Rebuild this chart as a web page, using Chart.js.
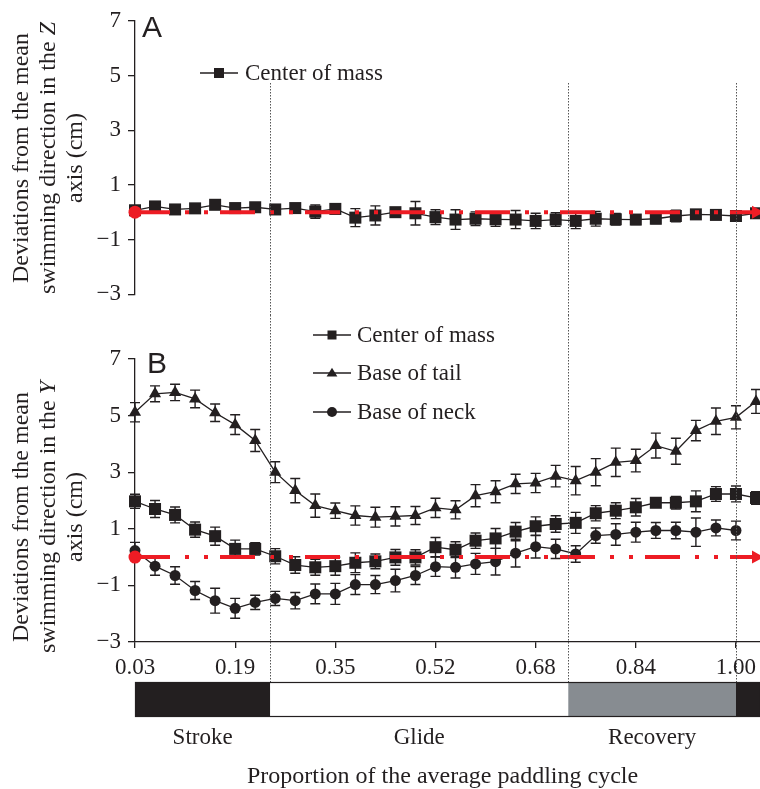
<!DOCTYPE html>
<html><head><meta charset="utf-8">
<script src="https://cdn.jsdelivr.net/npm/chart.js@4.4.1/dist/chart.umd.min.js"></script>
<style>
html,body{margin:0;padding:0;background:#fff;}
#wrap{position:relative;width:760px;height:789px;overflow:hidden;background:#fff;}
.box{position:absolute;left:0;width:760px;}
canvas{display:block;}
</style></head><body>
<div id="wrap">
<div class="box" style="top:0;height:315px"><canvas id="cA" width="760" height="315"></canvas></div>
<div class="box" style="top:315px;height:474px"><canvas id="cB" width="760" height="474"></canvas></div>
</div>
<script>
// ---------- data ----------
const cycle = ['0.03','0.06','0.10','0.13','0.16','0.19','0.23','0.26','0.29','0.32','0.35','0.39','0.42','0.45','0.48','0.52','0.55','0.58','0.61','0.65','0.68','0.71','0.74','0.77','0.81','0.84','0.87','0.90','0.94','0.97','1.00','1.03'];
const xTickLabels = ['0.03','0.19','0.35','0.52','0.68','0.84','1.00'];
const yTicks = [-3, -1, 1, 3, 5, 7];
const phaseNames = ['Stroke', 'Glide', 'Recovery'];
const phaseEnds = [0.25, 0.73, 1.00];
const meanLine = 0;

// Panel A : Z axis, centre of mass
const zCenterOfMass = [0.07,0.21,0.10,0.14,0.27,0.15,0.18,0.10,0.15,0.02,0.12,-0.20,-0.12,0.00,-0.04,-0.18,-0.27,-0.24,-0.26,-0.27,-0.32,-0.27,-0.32,-0.24,-0.26,-0.27,-0.24,-0.14,-0.08,-0.10,-0.14,-0.04];
const zCenterOfMassErr = [0.10,0.12,0.10,0.10,0.12,0.10,0.12,0.10,0.12,0.24,0.18,0.33,0.35,0.15,0.43,0.27,0.36,0.25,0.26,0.33,0.28,0.25,0.28,0.27,0.21,0.18,0.18,0.21,0.12,0.12,0.10,0.10];

// Panel B : Y axis
const yCenterOfMass = [1.97,1.70,1.49,0.97,0.74,0.29,0.29,0.03,-0.28,-0.36,-0.32,-0.20,-0.15,-0.01,-0.01,0.35,0.26,0.58,0.66,0.90,1.09,1.17,1.21,1.55,1.64,1.76,1.92,1.92,1.97,2.23,2.23,2.09];
const yCenterOfMassErr = [0.25,0.30,0.28,0.27,0.32,0.31,0.22,0.27,0.29,0.28,0.32,0.35,0.26,0.28,0.27,0.34,0.28,0.27,0.35,0.32,0.33,0.29,0.37,0.27,0.28,0.31,0.16,0.22,0.37,0.26,0.28,0.22];
const yBaseOfTail = [5.12,5.77,5.82,5.59,5.10,4.68,4.12,3.00,2.35,1.82,1.64,1.47,1.41,1.44,1.47,1.74,1.67,2.17,2.31,2.59,2.62,2.86,2.70,3.00,3.35,3.41,3.94,3.74,4.47,4.80,4.94,5.50];
const yBaseOfTailErr = [0.34,0.28,0.29,0.31,0.31,0.35,0.39,0.37,0.43,0.41,0.27,0.34,0.35,0.34,0.32,0.34,0.32,0.39,0.39,0.34,0.34,0.38,0.50,0.48,0.50,0.40,0.44,0.46,0.36,0.47,0.41,0.42];
const yBaseOfNeck = [0.23,-0.32,-0.65,-1.18,-1.54,-1.81,-1.60,-1.46,-1.54,-1.30,-1.30,-0.97,-0.97,-0.83,-0.65,-0.34,-0.36,-0.24,-0.16,0.14,0.37,0.29,0.11,0.76,0.80,0.88,0.94,0.94,0.88,1.03,0.94,null];
const yBaseOfNeckErr = [0.29,0.32,0.31,0.32,0.44,0.35,0.25,0.25,0.29,0.35,0.37,0.35,0.32,0.40,0.32,0.34,0.38,0.37,0.47,0.49,0.40,0.34,0.29,0.27,0.38,0.35,0.28,0.29,0.50,0.28,0.33,null];

// ---------- style ----------
const INK = '#231f20';
const RED = '#ed1c24';
const GREY = '#878c91';
const SERIF = "'Liberation Serif','Times New Roman',serif";
const SANS = "'Liberation Sans',Arial,sans-serif";
const X_MAX = 32.2;

const toPts = arr => arr.map((v, i) => ({x: i + 1, y: v}));
const propToX = p => p * (cycle.length - 1);
const fmt = v => (v < 0 ? '\u2212' + Math.abs(v) : String(v));

function seriesDataset(label, values, errs, style, radius) {
  return {
    label, data: toPts(values), errors: errs,
    borderColor: INK, borderWidth: 1.3, backgroundColor: INK,
    pointStyle: style, pointRadius: radius, pointBorderWidth: 0,
    pointBackgroundColor: INK, tension: 0, clip: false, spanGaps: false
  };
}
function meanDataset() {
  return {
    label: 'mean', data: [{x: 1, y: meanLine}, {x: X_MAX, y: meanLine}],
    borderColor: RED, borderWidth: 4, borderDash: [35, 15, 4, 15, 4, 12],
    borderCapStyle: 'butt', pointRadius: [6.5, 0], pointBorderWidth: 0,
    pointBackgroundColor: RED, clip: false, isMean: true
  };
}

const errorBars = {
  id: 'errorBars',
  beforeDatasetsDraw(chart) {
    const ctx = chart.ctx, ys = chart.scales.y;
    chart.data.datasets.forEach((ds, i) => {
      if (!ds.errors) return;
      const meta = chart.getDatasetMeta(i);
      ctx.save();
      ctx.strokeStyle = INK; ctx.lineWidth = 1.4;
      meta.data.forEach((el, j) => {
        const v = ds.data[j].y, e = ds.errors[j];
        if (v == null || e == null) return;
        const x = el.x, y0 = ys.getPixelForValue(v - e), y1 = ys.getPixelForValue(v + e);
        ctx.beginPath();
        ctx.moveTo(x, y0); ctx.lineTo(x, y1);
        ctx.moveTo(x - 5, y0); ctx.lineTo(x + 5, y0);
        ctx.moveTo(x - 5, y1); ctx.lineTo(x + 5, y1);
        ctx.stroke();
      });
      ctx.restore();
    });
  },
  afterDatasetsDraw(chart) {
    const ctx = chart.ctx;
    chart.data.datasets.forEach((ds, i) => {
      if (!ds.isMean) return;
      const meta = chart.getDatasetMeta(i);
      const last = meta.data[meta.data.length - 1];
      ctx.save();
      ctx.fillStyle = RED;
      ctx.beginPath();
      ctx.moveTo(last.x + 4, last.y);
      ctx.lineTo(last.x - 8, last.y - 6.5);
      ctx.lineTo(last.x - 8, last.y + 6.5);
      ctx.closePath(); ctx.fill();
      ctx.restore();
    });
  }
};

function drawMarker(ctx, style, x, y, size) {
  ctx.beginPath();
  if (style === 'rect') { ctx.rect(x - size, y - size, 2 * size, 2 * size); }
  else if (style === 'triangle') {
    ctx.moveTo(x, y - size * 1.15); ctx.lineTo(x + size * 1.2, y + size * 0.75); ctx.lineTo(x - size * 1.2, y + size * 0.75); ctx.closePath();
  } else { ctx.arc(x, y, size + 0.5, 0, Math.PI * 2); }
  ctx.fill();
}

function yTitle(ctx, cy, letter) {
  ctx.save();
  ctx.fillStyle = INK;
  ctx.translate(0, cy);
  ctx.rotate(-Math.PI / 2);
  ctx.textBaseline = 'alphabetic';
  ctx.textAlign = 'left';
  const lines = [
    [['Deviations from the mean', false]],
    [['swimming direction in the ', false], [letter, true]],
    [['axis (cm)', false]]
  ];
  const base = [28, 55, 82];
  lines.forEach((parts, li) => {
    let total = 0;
    parts.forEach(([t, it]) => { ctx.font = (it ? 'italic ' : '') + '24px ' + SERIF; total += ctx.measureText(t).width; });
    let x = -total / 2;
    parts.forEach(([t, it]) => {
      ctx.font = (it ? 'italic ' : '') + '24px ' + SERIF;
      ctx.fillText(t, x, base[li]);
      x += ctx.measureText(t).width;
    });
  });
  ctx.restore();
}

function legend(ctx, items, x0, x1, tx) {
  ctx.save();
  items.forEach(it => {
    ctx.strokeStyle = INK; ctx.lineWidth = 1.3; ctx.fillStyle = INK;
    ctx.beginPath(); ctx.moveTo(x0, it.y); ctx.lineTo(x1, it.y); ctx.stroke();
    drawMarker(ctx, it.style, (x0 + x1) / 2, it.y, it.size);
    ctx.font = '23px ' + SERIF; ctx.textBaseline = 'middle'; ctx.textAlign = 'left';
    ctx.fillText(it.label, tx, it.y + 1);
  });
  ctx.restore();
}

function dottedLines(ctx, xs, top, bottom) {
  ctx.save();
  ctx.strokeStyle = '#555'; ctx.lineWidth = 1; ctx.setLineDash([1.5, 1.5]);
  phaseEnds.forEach(p => {
    const x = Math.round(xs.getPixelForValue(propToX(p))) + 0.5;
    ctx.beginPath(); ctx.moveTo(x, top); ctx.lineTo(x, bottom); ctx.stroke();
  });
  ctx.restore();
}

function yScale() {
  return {
    min: -3, max: 7,
    afterBuildTicks: s => { s.ticks = yTicks.map(v => ({value: v})); },
    afterFit: s => { s.width = 135; },
    ticks: { color: INK, font: {family: SERIF, size: 23}, padding: 7, callback: v => fmt(v) },
    grid: { drawOnChartArea: false, drawTicks: true, tickLength: 7, color: INK, lineWidth: 1.3 },
    border: { display: true, color: INK, width: 1.3 }
  };
}

// ---------- Chart A ----------
const panelA = {
  id: 'panelA',
  afterDraw(chart) {
    const ctx = chart.ctx, xs = chart.scales.x;
    dottedLines(ctx, xs, 83, chart.height);
    ctx.save();
    ctx.fillStyle = INK; ctx.font = '30px ' + SANS; ctx.textBaseline = 'alphabetic';
    ctx.fillText('A', 142, 37);
    ctx.restore();
    legend(ctx, [{label: 'Center of mass', style: 'rect', size: 5, y: 73}], 200, 238, 245);
    yTitle(ctx, 158, 'Z');
  }
};

new Chart(document.getElementById('cA'), {
  type: 'line',
  data: { datasets: [meanDataset(), seriesDataset('Center of mass', zCenterOfMass, zCenterOfMassErr, 'rect', 8.5)] },
  options: {
    responsive: false, animation: false, devicePixelRatio: 1,
    layout: { autoPadding: false, padding: {top: 18, bottom: 16, left: 0, right: 0} },
    plugins: { legend: {display: false}, tooltip: {enabled: false} },
    scales: {
      x: { type: 'linear', min: 1, max: X_MAX, display: false },
      y: yScale()
    }
  },
  plugins: [errorBars, panelA]
});

// ---------- Chart B ----------
const panelB = {
  id: 'panelB',
  afterDraw(chart) {
    const ctx = chart.ctx, xs = chart.scales.x, area = chart.chartArea;
    const barTop = area.bottom + 40, barH = 35;
    dottedLines(ctx, xs, 0, barTop);
    const edges = [area.left].concat(phaseEnds.map(p => xs.getPixelForValue(propToX(p))), [area.right]);
    const fills = [INK, '#ffffff', GREY, INK];
    ctx.save();
    for (let i = 0; i < fills.length; i++) {
      ctx.fillStyle = fills[i];
      ctx.fillRect(edges[i], barTop, edges[i + 1] - edges[i], barH);
    }
    ctx.strokeStyle = INK; ctx.lineWidth = 1.2;
    ctx.strokeRect(area.left + 0.5, barTop + 0.5, area.right - area.left, barH - 1);
    ctx.fillStyle = INK; ctx.font = '23px ' + SERIF; ctx.textAlign = 'center'; ctx.textBaseline = 'middle';
    phaseNames.forEach((n, i) => { ctx.fillText(n, (edges[i] + edges[i + 1]) / 2, area.bottom + 96); });
    ctx.font = '24px ' + SERIF;
    ctx.fillText('Proportion of the average paddling cycle', (area.left + area.right) / 2 - 5, area.bottom + 135);
    ctx.font = '30px ' + SANS; ctx.textAlign = 'left'; ctx.textBaseline = 'alphabetic';
    ctx.fillText('B', 147, 58);
    ctx.restore();
    legend(ctx, [
      {label: 'Center of mass', style: 'rect', size: 4.5, y: 20},
      {label: 'Base of tail', style: 'triangle', size: 4.5, y: 58},
      {label: 'Base of neck', style: 'circle', size: 4.5, y: 97}
    ], 313, 351, 357);
    yTitle(ctx, 202, 'Y');
  }
};

new Chart(document.getElementById('cB'), {
  type: 'line',
  data: { datasets: [
    meanDataset(),
    seriesDataset('Center of mass', yCenterOfMass, yCenterOfMassErr, 'rect', 8.5),
    seriesDataset('Base of tail', yBaseOfTail, yBaseOfTailErr, 'triangle', 7),
    seriesDataset('Base of neck', yBaseOfNeck, yBaseOfNeckErr, 'circle', 5.5)
  ] },
  options: {
    responsive: false, animation: false, devicePixelRatio: 1,
    layout: { autoPadding: false, padding: {top: 44, bottom: 107, left: 0, right: 0} },
    plugins: { legend: {display: false}, tooltip: {enabled: false} },
    scales: {
      x: {
        type: 'linear', min: 1, max: X_MAX,
        afterBuildTicks: s => { s.ticks = xTickLabels.map(l => ({value: cycle.indexOf(l) + 1})); },
        afterFit: s => { s.height = 40; s.paddingLeft = 0; s.paddingRight = 0; },
        ticks: { color: INK, font: {family: SERIF, size: 23}, padding: 6, maxRotation: 0, autoSkip: false,
                 callback: v => cycle[v - 1] },
        grid: { drawOnChartArea: false, drawTicks: true, tickLength: 6, color: INK, lineWidth: 1.3 },
        border: { display: true, color: INK, width: 1.3 }
      },
      y: yScale()
    }
  },
  plugins: [errorBars, panelB]
});
</script>
</body></html>
